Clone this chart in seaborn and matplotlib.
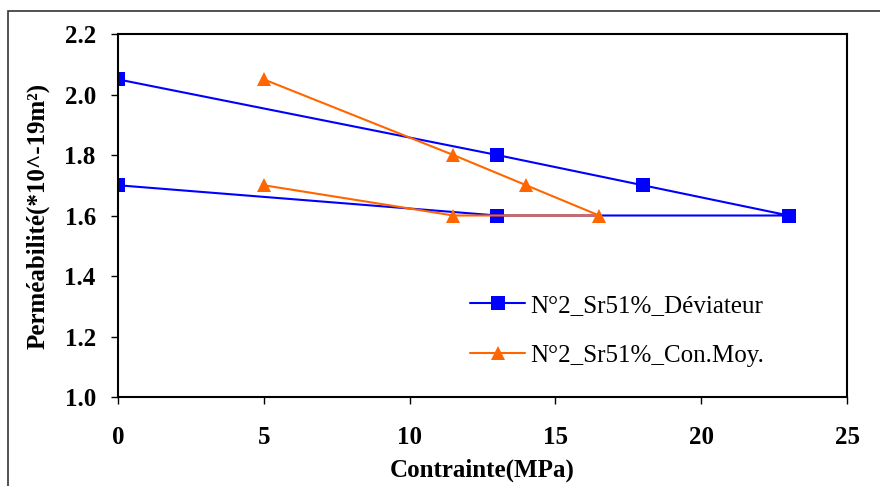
# Perméabilité vs contrainte - N°2 Sr51%
import pandas as pd
import matplotlib
matplotlib.use("Agg")
import matplotlib.pyplot as plt
import seaborn as sns
from matplotlib.patches import Rectangle

sns.set_theme(style="white")
plt.rcParams['font.family'] = ['Liberation Serif', 'DejaVu Serif']

# Données
contrainte_dev = [0, 13, 18, 23, 13, 0]
perm_dev = [2.05, 1.80, 1.70, 1.60, 1.60, 1.70]
contrainte_moy = [5, 11.5, 14, 16.5, 11.5, 5]
perm_moy = [2.05, 1.80, 1.70, 1.60, 1.60, 1.70]
serie_dev = 'N°2_Sr51%_Déviateur'
serie_moy = 'N°2_Sr51%_Con.Moy.'

df = pd.concat([
    pd.DataFrame({'x': contrainte_dev, 'y': perm_dev, 'serie': serie_dev}),
    pd.DataFrame({'x': contrainte_moy, 'y': perm_moy, 'serie': serie_moy}),
], ignore_index=True)

fig = plt.figure(figsize=(8.8, 4.86), dpi=100)
ax = fig.add_axes([118 / 880, 1 - 397 / 486, 729 / 880, 363 / 486])

# cadre extérieur (coupé à droite et en bas comme dans l'original)
fig.patches.append(Rectangle((8 / 880, -0.1), 1.2, 0.1 + (1 - 11 / 486),
                             transform=fig.transFigure, fill=False,
                             edgecolor='#333333', linewidth=1.2))

sns.lineplot(data=df, x='x', y='y', hue='serie', style='serie', sort=False,
             estimator=None, errorbar=None,
             palette={serie_dev: '#0000FF', serie_moy: '#FF6600'},
             markers={serie_dev: 's', serie_moy: '^'}, dashes=False,
             markersize=10, markeredgewidth=0, linewidth=1.5, ax=ax)

ax.set_xlim(0, 25)
ax.set_ylim(1.0, 2.2)
ax.set_xticks([0, 5, 10, 15, 20, 25])
ax.set_yticks([1.0, 1.2, 1.4, 1.6, 1.8, 2.0, 2.2])
ax.set_yticklabels(['1.0', '1.2', '1.4', '1.6', '1.8', '2.0', '2.2'])
ax.tick_params(axis='both', direction='out', length=5, width=1, color='black',
               labelsize=18, labelcolor='black', bottom=True, left=True)
ax.tick_params(axis='x', pad=16)
ax.tick_params(axis='y', pad=11)
for lab in ax.get_xticklabels() + ax.get_yticklabels():
    lab.set_fontweight('bold')
for sp in ax.spines.values():
    sp.set_color('black')
    sp.set_linewidth(1.5)

ax.set_xlabel('Contrainte(MPa)', fontsize=18, fontweight='bold', labelpad=7,
              color='black')
ax.set_ylabel('Perméabilité(*10^-19m²)', fontsize=18, fontweight='bold',
              labelpad=11, color='black')

leg = ax.legend(title=None, frameon=False, fontsize=18, loc='lower left',
                bbox_to_anchor=(0.452, 0.02), handlelength=2.2, labelspacing=1.12,
                handletextpad=0.2)
for t in leg.get_texts():
    t.set_color('black')

fig.savefig('out.png', dpi=100)
